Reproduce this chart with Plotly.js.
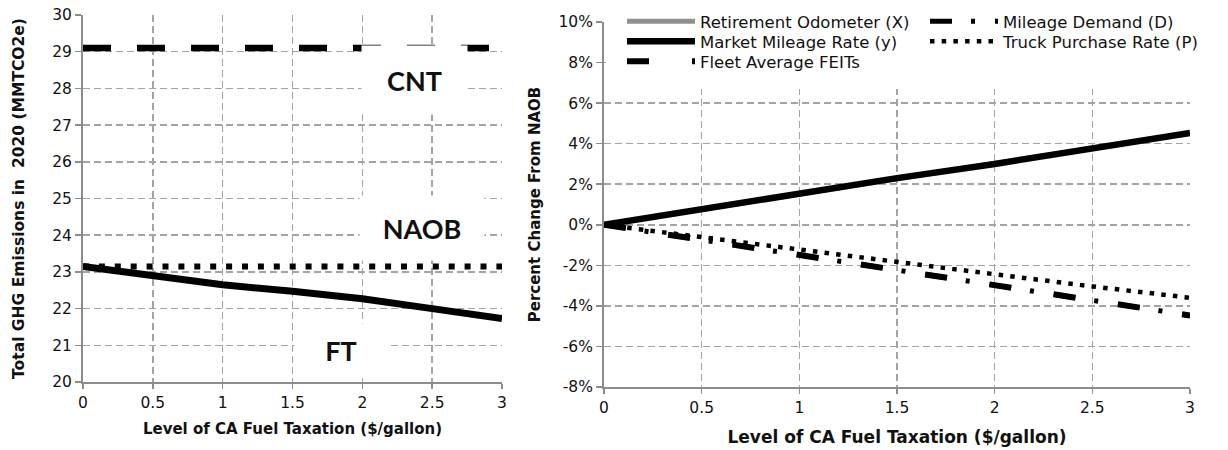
<!DOCTYPE html>
<html>
<head>
<meta charset="utf-8">
<script src="https://cdn.plot.ly/plotly-3.0.1.min.js"></script>
<style>
  html, body { margin: 0; padding: 0; background: #ffffff; }
  #chart { width: 1228px; height: 450px; }
</style>
</head>
<body>
<div id="chart"></div>
<script>
// ---------- data ----------
const taxLevels = [0, 0.5, 1, 1.5, 2, 2.5, 3];               // $/gallon
const taxTickText = ['0', '0.5', '1', '1.5', '2', '2.5', '3'];

// Left panel: total GHG emissions in 2020 (MMTCO2e)
const cntEmissions  = [29.1, 29.1, 29.1, 29.1, 29.1, 29.1, 29.1];
const naobEmissions = [23.15, 23.15, 23.15, 23.15, 23.15, 23.15, 23.15];
const ftEmissions   = [23.15, 22.91, 22.65, 22.47, 22.27, 22.0, 21.73];
const ghgTickVals = [20, 21, 22, 23, 24, 25, 26, 27, 28, 29, 30];
const scenarioLabels = ['CNT', 'NAOB', 'FT'];
const scenarioLabelX = [2.37, 2.43, 1.85];
const scenarioLabelY = [28.23, 24.2, 20.86];

// Right panel: percent change from NAOB
const retirementOdometer = [0, 0.76, 1.53, 2.28, 3.0, 3.78, 4.5];
const marketMileageRate  = [0, 0.77, 1.55, 2.3, 3.0, 3.8, 4.53];
const fleetAverageFEITs  = [0, -0.74, -1.48, -2.22, -2.98, -3.74, -4.47];
const mileageDemand      = [0, -0.74, -1.48, -2.22, -2.98, -3.74, -4.47];
const truckPurchaseRate  = [0, -0.62, -1.23, -1.84, -2.44, -3.04, -3.6];
const pctTickVals = [-8, -6, -4, -2, 0, 2, 4, 6, 8, 10];
const pctTickText = ['-8%', '-6%', '-4%', '-2%', '0%', '2%', '4%', '6%', '8%', '10%'];

// ---------- styling ----------
const W = 1228, H = 450;
const FONT = 'DejaVu Sans, Liberation Sans, Arial, sans-serif';
const GRID = '#a3a3a3';
const AXIS = '#8c8c8c';

function xAxis(domain, anchor, titleSize, standoff) {
  return {
    domain: domain, anchor: anchor, range: [0, 3],
    tickvals: taxLevels, ticktext: taxTickText,
    showgrid: true, gridcolor: GRID, gridwidth: 1.5, griddash: '7px,4px',
    showline: true, linecolor: AXIS, linewidth: 2,
    ticks: 'outside', ticklen: 5, tickwidth: 1.5, tickcolor: AXIS,
    zeroline: false, fixedrange: true,
    tickfont: { family: FONT, size: 15.5, color: '#111' },
    title: { text: 'Level of CA Fuel Taxation ($/gallon)', standoff: standoff,
             font: { family: FONT, size: titleSize, color: '#111', weight: 'bold' } }
  };
}
function yAxis(domain, anchor, range, vals, text, title, titleSize, standoff) {
  return {
    domain: domain, anchor: anchor, range: range,
    tickvals: vals, ticktext: text,
    showgrid: true, gridcolor: GRID, gridwidth: 1.5, griddash: '7px,4px',
    showline: true, linecolor: AXIS, linewidth: 2,
    ticks: 'outside', ticklen: 6, tickwidth: 1.5, tickcolor: AXIS,
    zeroline: false, fixedrange: true,
    tickfont: { family: FONT, size: 15.5, color: '#111' },
    title: { text: title, standoff: standoff,
             font: { family: FONT, size: titleSize, color: '#111', weight: 'bold' } }
  };
}

const traces = [
  // left panel
  { x: taxLevels, y: cntEmissions, xaxis: 'x', yaxis: 'y', mode: 'lines', name: 'CNT', showlegend: false,
    line: { color: '#000', width: 6.5, dash: '28px,26px' } },
  { x: taxLevels, y: naobEmissions, xaxis: 'x', yaxis: 'y', mode: 'lines', name: 'NAOB', showlegend: false,
    line: { color: '#000', width: 6, dash: '6px,9.9px' } },
  { x: taxLevels, y: ftEmissions, xaxis: 'x', yaxis: 'y', mode: 'lines', name: 'FT', showlegend: false,
    line: { color: '#000', width: 7 } },
  // right panel
  { x: taxLevels, y: retirementOdometer, xaxis: 'x2', yaxis: 'y2', mode: 'lines', name: 'Retirement Odometer (X)',
    legend: 'legend', legendrank: 1, line: { color: '#8f8f8f', width: 5 } },
  { x: taxLevels, y: marketMileageRate, xaxis: 'x2', yaxis: 'y2', mode: 'lines', name: 'Market Mileage Rate (y)',
    legend: 'legend2', legendrank: 1, line: { color: '#000', width: 6.5 } },
  { x: taxLevels, y: fleetAverageFEITs, xaxis: 'x2', yaxis: 'y2', mode: 'lines', name: 'Fleet Average FEITs',
    legend: 'legend3', legendrank: 1, line: { color: '#000', width: 6, dash: '22px,43px' } },
  { x: taxLevels, y: mileageDemand, xaxis: 'x2', yaxis: 'y2', mode: 'lines', name: 'Mileage Demand (D)',
    legend: 'legend', legendrank: 2, line: { color: '#000', width: 5, dash: '22px,19px,4px,20px' } },
  { x: taxLevels, y: truckPurchaseRate, xaxis: 'x2', yaxis: 'y2', mode: 'lines', name: 'Truck Purchase Rate (P)',
    legend: 'legend2', legendrank: 2, line: { color: '#000', width: 4.5, dash: '4.5px,7.2px' } }
];

const labelBoxW = [103, 122, 90];
const labelBoxH = [66, 62, 50];
const annotations = scenarioLabels.map((t, i) => ({
  text: t, x: scenarioLabelX[i], y: scenarioLabelY[i], xref: 'x', yref: 'y',
  showarrow: false, bgcolor: '#ffffff', width: labelBoxW[i], height: labelBoxH[i],
  font: { family: 'Lato, Open Sans, sans-serif', size: 27, color: '#111', weight: 'bold' }
}));

function legendRow(topPx) {
  return {
    orientation: 'h', x: 622 / W, y: 1 - topPx / H, xanchor: 'left', yanchor: 'top',
    entrywidth: 220, entrywidthmode: 'pixels', itemwidth: 68, traceorder: 'normal',
    bgcolor: 'rgba(0,0,0,0)', borderwidth: 0,
    font: { family: FONT, size: 16.5, color: '#111' }
  };
}

const layout = {
  width: W, height: H,
  margin: { l: 0, r: 0, t: 0, b: 0, pad: 0, autoexpand: false },
  paper_bgcolor: '#ffffff', plot_bgcolor: '#ffffff',
  font: { family: FONT, color: '#111' },
  showlegend: true,
  legend: legendRow(4),
  legend2: legendRow(24),
  legend3: legendRow(44),
  xaxis: xAxis([83 / W, 502 / W], 'y', 15, 13),
  yaxis: yAxis([1 - 382 / H, 1 - 15 / H], 'x', [20, 30], ghgTickVals, ghgTickVals.map(String),
               'Total GHG Emissions in  2020 (MMTCO2e)', 15.5, 24),
  xaxis2: xAxis([604 / W, 1190 / W], 'y2', 17, 16),
  yaxis2: yAxis([1 - 387 / H, 1 - 22 / H], 'x2', [-8, 10], pctTickVals, pctTickText,
                'Percent Change From NAOB', 15, 14),
  shapes: [
    { type: 'rect', xref: 'paper', yref: 'paper', x0: 606 / W, x1: 1196 / W,
      y0: 1 - 89 / H, y1: 1 - 8 / H, fillcolor: '#ffffff', line: { width: 0 }, layer: 'above' }
  ],
  annotations: annotations
};

Plotly.newPlot('chart', traces, layout, { displayModeBar: false, staticPlot: true });
</script>
</body>
</html>
